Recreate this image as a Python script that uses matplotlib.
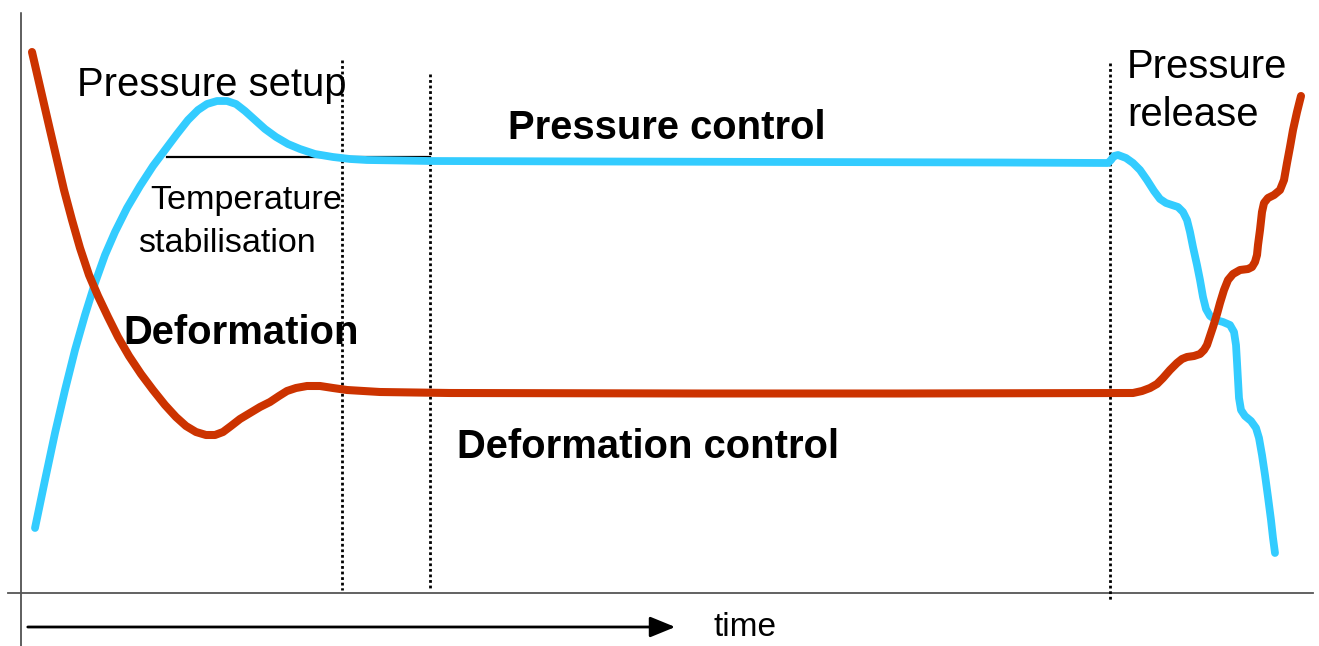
import matplotlib.pyplot as plt
from matplotlib.patches import FancyArrowPatch

plt.rcParams['font.family'] = ['Liberation Sans', 'DejaVu Sans']

# Schematic units: horizontal = time, vertical grows downwards (canvas-style)
pressure_t = [35, 45, 55, 65, 75, 85, 95, 105, 115, 127, 140, 153, 165, 177, 188, 198, 207, 217,
              227, 236, 245, 255, 265, 276, 288, 300, 315, 333, 350, 367, 400, 430, 600, 800, 1000,
              1108, 1111, 1114, 1118, 1126, 1133, 1140, 1147, 1154, 1160, 1166, 1172, 1178, 1183,
              1187, 1190, 1193, 1197, 1200, 1203, 1206, 1210, 1216, 1223, 1230, 1234, 1236, 1237,
              1238, 1239, 1241, 1245, 1251, 1256, 1259, 1262, 1265, 1268, 1271, 1273, 1275]
pressure_v = [528, 480, 433, 390, 350, 315, 283, 255, 232, 208, 186, 166, 150, 134, 120, 110, 104, 101,
              101, 104, 111, 120, 129, 137, 144, 149, 154, 157, 159, 160, 160.5, 161, 161.5, 162, 162.5,
              163, 160, 156, 155, 158, 163, 170, 180, 191, 199, 203, 205, 207, 212,
              220, 232, 247, 265, 280, 297, 309, 316, 320, 322, 325, 332, 345, 362,
              380, 398, 410, 416, 421, 428, 438, 455, 475, 497, 520, 538, 553]

deform_t = [32, 38, 44, 50, 57, 64, 72, 80, 89, 98, 108, 118, 129, 141, 153, 165, 176, 186, 196,
            206, 215, 223, 231, 240, 250, 260, 270, 279, 287, 296, 307, 320, 333, 347, 380, 450,
            700, 900, 1133, 1142, 1150, 1157, 1163, 1170, 1177, 1182, 1187, 1194, 1200, 1204, 1207,
            1210, 1213, 1217, 1220, 1224, 1228, 1233, 1240, 1248, 1252, 1255, 1257, 1258, 1260, 1262,
            1264, 1268, 1274, 1280, 1284, 1287, 1290, 1293, 1297, 1301]
deform_v = [52, 78, 104, 130, 160, 190, 220, 248, 275, 296, 317, 337, 356, 374, 390, 405, 417, 426, 432,
            435, 435, 432, 426, 419, 413, 407, 402, 396, 391, 388, 386, 386, 388, 390, 392, 393,
            393.5, 393.5, 393, 391, 388, 384, 378, 370, 363, 359, 357, 356, 354, 350, 345,
            336, 327, 314, 303, 290, 280, 274, 270, 269, 267, 262, 255, 245, 230, 212,
            203, 198, 195, 190, 180, 163, 147, 130, 112, 96]

# phase boundaries: time, top and bottom of each marker line
phase_t = [342, 430, 1110]
phase_top = [60, 74, 63]
phase_bottom = [590, 590, 600]

setpoint_level = 157
setpoint_span = (167, 430)

fig = plt.figure(figsize=(13.19, 6.46), dpi=100)
ax = fig.add_axes([0, 0, 1, 1])
ax.set_xlim(0, 1319)
ax.set_ylim(646, 0)
ax.axis('off')

# axes of the sketch
ax.plot([21, 21], [13, 646], color='#333333', lw=1.1)
ax.plot([8, 1313], [593, 593], color='#555555', lw=1.3)

for t, top, bot in zip(phase_t, phase_top, phase_bottom):
    ax.plot([t, t], [top, bot], color='black', lw=2.0, linestyle=(0, (1, 1)))

ax.plot(setpoint_span, [setpoint_level, setpoint_level], color='black', lw=1.6)

ax.plot(pressure_t, pressure_v, color='#33ccff', lw=5.6, solid_capstyle='round', solid_joinstyle='round')
ax.plot(deform_t, deform_v, color='#cc3300', lw=5.8, solid_capstyle='round', solid_joinstyle='round')

# time arrow
arrow = FancyArrowPatch((25, 627), (678, 627), arrowstyle='-|>,head_length=1.1,head_width=0.45',
                        mutation_scale=14, color='black', lw=2.0)
ax.add_patch(arrow)
ax.text(713, 627, 'time', fontsize=24, va='center', ha='left')

ax.text(77, 85, 'Pressure setup', fontsize=28.8, va='center', ha='left')
ax.text(508, 128, 'Pressure control', fontsize=28.8, fontweight='bold', va='center', ha='left')
ax.text(150, 201, 'Temperature', fontsize=24.6, va='center', ha='left')
ax.text(138, 243, 'stabilisation', fontsize=24.6, va='center', ha='left')
ax.text(123, 333, 'Deformation', fontsize=28.8, fontweight='bold', va='center', ha='left')
ax.text(457, 447, 'Deformation control', fontsize=28.8, fontweight='bold', va='center', ha='left')
ax.text(1127, 67, 'Pressure', fontsize=28.8, va='center', ha='left')
ax.text(1127, 115, 'release', fontsize=28.8, va='center', ha='left')

fig.savefig('out.png', dpi=100)
